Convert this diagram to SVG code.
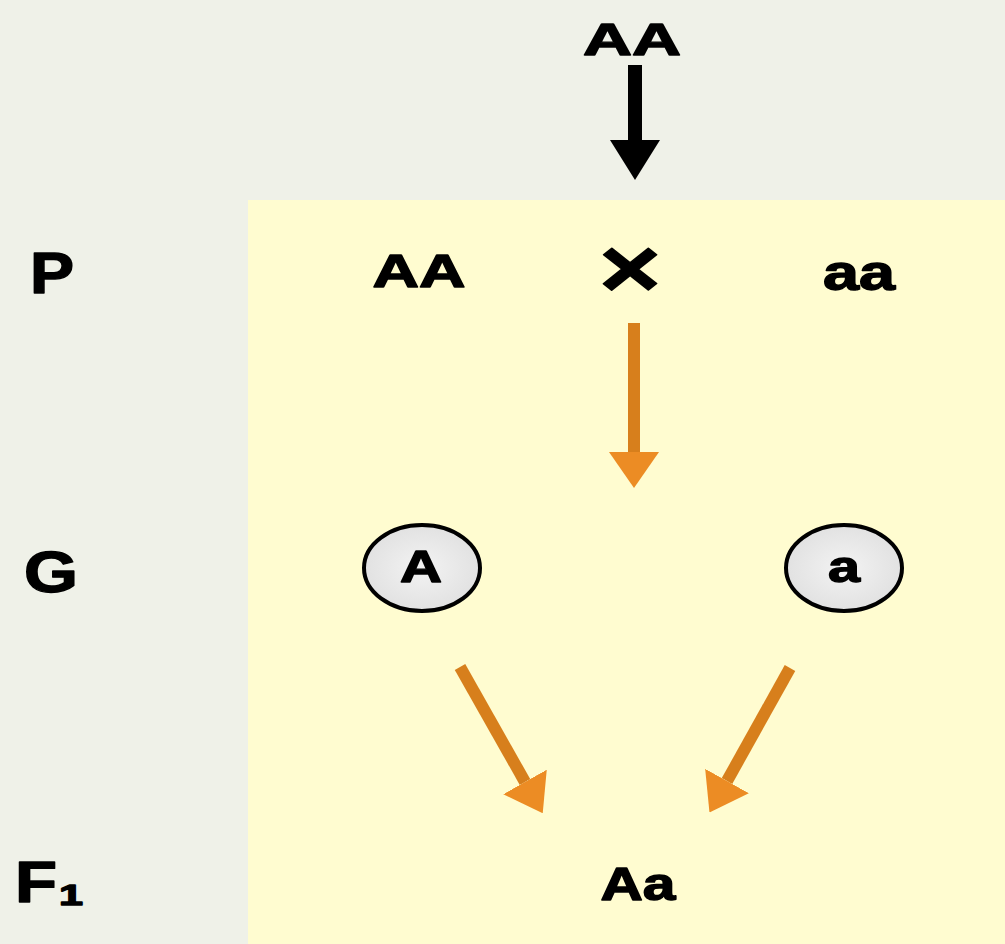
<svg xmlns="http://www.w3.org/2000/svg" width="1005" height="944" viewBox="0 0 1005 944">
  <style>
    .lbl { font-family: "Liberation Sans", Arial, sans-serif; font-weight: bold; fill: #000; stroke: #000; stroke-width: 1.4; stroke-linejoin: round; }
    .row { font-size: 57px; }
    .mid { text-anchor: middle; }
    .orange { stroke: #d77f1c; stroke-width: 12; fill: none; }
    .black { stroke: #000; stroke-width: 14; fill: none; }
    .gamete { fill: url(#gameteFill); stroke: #000; stroke-width: 4; }
  </style>
  <defs>
    <radialGradient id="gameteFill" cx="0.5" cy="0.5" r="0.6">
      <stop offset="0" stop-color="#f3f3f3"/>
      <stop offset="1" stop-color="#dedede"/>
    </radialGradient>
    <marker id="headOrange" markerUnits="userSpaceOnUse" markerWidth="36" markerHeight="50" viewBox="0 0 36 50" refX="0" refY="25" orient="auto">
      <path d="M0,0 L36,25 L0,50 Z" fill="#ec8c24"/>
    </marker>
    <marker id="headBlack" markerUnits="userSpaceOnUse" markerWidth="40" markerHeight="50" viewBox="0 0 40 50" refX="0" refY="25" orient="auto">
      <path d="M0,0 L40,25 L0,50 Z" fill="#000"/>
    </marker>
  </defs>

  <!-- background and cross panel -->
  <rect x="0" y="0" width="1005" height="944" fill="#eff1e8"/>
  <rect x="248" y="200" width="757" height="744" fill="#fffcd0"/>

  <!-- generation row labels -->
  <g id="label-P"><text class="lbl row" x="30" y="293" textLength="44" lengthAdjust="spacingAndGlyphs">P</text></g>
  <g id="label-G"><text class="lbl row" x="24" y="592" textLength="54" lengthAdjust="spacingAndGlyphs">G</text></g>
  <g id="label-F1">
    <text class="lbl row" x="15" y="902" textLength="42" lengthAdjust="spacingAndGlyphs">F</text>
    <text class="lbl" style="font-size:30px" x="59" y="905" textLength="24" lengthAdjust="spacingAndGlyphs">1</text>
  </g>

  <!-- nodes -->
  <g id="node-top-AA"><text class="lbl mid" style="font-size:45px" x="632" y="55" textLength="98" lengthAdjust="spacingAndGlyphs">AA</text></g>
  <g id="node-parent-AA"><text class="lbl mid" style="font-size:47px" x="419" y="287" textLength="93" lengthAdjust="spacingAndGlyphs">AA</text></g>
  <g id="node-cross"><text class="lbl mid" style="font-size:84px" x="630" y="297" textLength="62" lengthAdjust="spacingAndGlyphs">×</text></g>
  <g id="node-parent-aa"><text class="lbl mid" style="font-size:50px" x="859" y="290" textLength="72" lengthAdjust="spacingAndGlyphs">aa</text></g>
  <g id="node-gamete-A">
    <ellipse class="gamete" cx="422" cy="568" rx="58" ry="43"/>
    <text class="lbl mid" style="font-size:44px" x="421" y="582" textLength="42" lengthAdjust="spacingAndGlyphs">A</text>
  </g>
  <g id="node-gamete-a">
    <ellipse class="gamete" cx="844" cy="568" rx="58" ry="43"/>
    <text class="lbl mid" style="font-size:44px" x="844" y="582" textLength="32" lengthAdjust="spacingAndGlyphs">a</text>
  </g>
  <g id="node-F1-Aa"><text class="lbl mid" style="font-size:46px" x="638" y="900" textLength="75" lengthAdjust="spacingAndGlyphs">Aa</text></g>

  <!-- connectors -->
  <g id="connectors">
    <line class="black" x1="635" y1="65" x2="635" y2="140" marker-end="url(#headBlack)"/>
    <line class="orange" x1="634" y1="323" x2="634" y2="452" marker-end="url(#headOrange)"/>
    <line class="orange" x1="460" y1="667" x2="525" y2="782" marker-end="url(#headOrange)"/>
    <line class="orange" x1="790" y1="668" x2="727" y2="781" marker-end="url(#headOrange)"/>
  </g>
</svg>
